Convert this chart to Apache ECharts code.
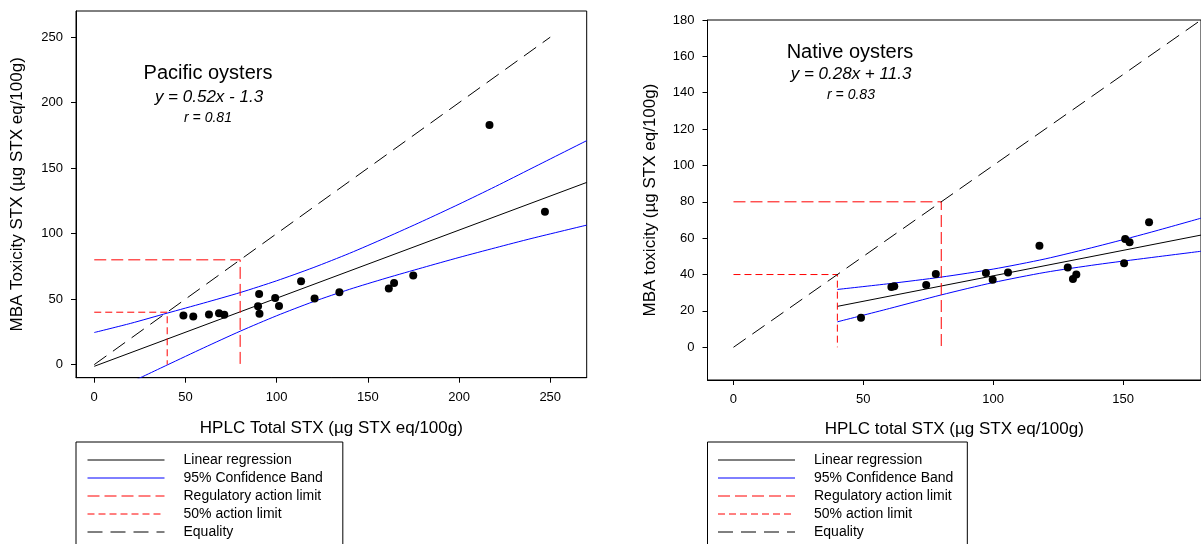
<!DOCTYPE html>
<html><head><meta charset="utf-8">
<script src="https://cdn.jsdelivr.net/npm/echarts@6/dist/echarts.min.js"></script>
<style>html,body{margin:0;padding:0;background:#fff}#c{width:1201px;height:544px}</style>
</head><body><div id="c"></div>
<script>
// ---------- data ----------
const legendNames = ['Linear regression', '95% Confidence Band', 'Regulatory action limit', '50% action limit', 'Equality'];

// Pacific oysters (left panel)
const pacificPoints = [
  [48.9, 37.5], [54.3, 36.7], [62.9, 38.2], [68.4, 39.2], [71.3, 38.0],
  [90.4, 54.0], [89.8, 44.6], [90.6, 38.8], [99.2, 50.9], [101.3, 44.8],
  [113.4, 63.7], [120.8, 50.5], [134.4, 55.3], [161.5, 58.1], [164.4, 62.4],
  [174.9, 68.0], [216.7, 183.0], [247.1, 116.7]
];
const pacificRegression = [[0, -1.3], [270, 139.1]];
const pacificUpper = [[0, 24.5], [20, 31.5], [40, 39.3], [60, 47], [80, 55], [100, 64], [120, 74], [140, 85], [160, 97], [180, 109.5], [200, 122.5], [220, 136], [240, 150], [270, 171]];
const pacificLower = [[20, -13.5], [40, -0.3], [60, 12.8], [80, 25.5], [100, 37.3], [120, 48], [140, 57.5], [160, 66], [180, 74], [200, 81.8], [220, 89.2], [240, 96.4], [270, 106.5]];
const pacificEquality = [[0, 0], [250, 250]];
const pacificXTicks = [0, 50, 100, 150, 200, 250];
const pacificYTicks = [0, 50, 100, 150, 200, 250];

// Native oysters (right panel)
const nativePoints = [
  [49.1, 16.3], [60.8, 33.2], [61.9, 33.6], [74.2, 34.3], [77.9, 40.3],
  [97.2, 40.8], [99.8, 37.2], [105.7, 41.1], [117.8, 55.8], [128.7, 43.9],
  [130.7, 37.6], [132.0, 40.0], [150.4, 46.2], [150.8, 59.6], [152.5, 57.8],
  [160.0, 68.8]
];
const nativeRegression = [[40, 22.5], [180, 61.7]];
const nativeUpper = [[40, 31.8], [60, 35], [80, 38.6], [100, 43], [120, 48.6], [140, 55.5], [160, 63], [180, 71]];
const nativeLower = [[40, 14], [60, 21.3], [80, 28.8], [100, 35.6], [120, 41.2], [140, 45.5], [160, 49.2], [180, 52.8]];
const nativeEquality = [[0, 0], [180, 180]];
const nativeXTicks = [0, 50, 100, 150];
const nativeYTicks = [0, 20, 40, 60, 80, 100, 120, 140, 160, 180];

// action limits (shared)
const regulatoryLimit = [[0, 80], [80, 80], [80, 0]];
const halfLimit = [[0, 40], [40, 40], [40, 0]];

// ---------- chart ----------
const FONT = "'Liberation Sans', Arial, Helvetica, sans-serif";
const chart = echarts.init(document.getElementById('c'), null, {renderer: 'canvas'});

function xAxisCfg(gridIndex, min, max, ticks, name, gap) {
  return {
    type: 'value', gridIndex, min, max, name, nameLocation: 'middle', nameGap: gap,
    nameTextStyle: {fontFamily: FONT, fontSize: 17, color: '#000'},
    axisLine: {show: true, onZero: false, lineStyle: {color: '#000', width: 1}},
    axisTick: {show: true, inside: false, length: 5, customValues: ticks, lineStyle: {color: '#000'}},
    axisLabel: {customValues: ticks, margin: 13, fontFamily: FONT, fontSize: 13, color: '#000'},
    splitLine: {show: false}
  };
}
function yAxisCfg(gridIndex, min, max, ticks, name, gap) {
  return {
    type: 'value', gridIndex, min, max, name, nameLocation: 'middle', nameGap: gap,
    nameTextStyle: {fontFamily: FONT, fontSize: 17, color: '#000'},
    axisLine: {show: true, onZero: false, lineStyle: {color: '#000', width: 1}},
    axisTick: {show: true, inside: false, length: 5, customValues: ticks, lineStyle: {color: '#000'}},
    axisLabel: {customValues: ticks, margin: 13, fontFamily: FONT, fontSize: 13, color: '#000'},
    splitLine: {show: false}
  };
}
function lineSeries(name, data, xi, color, dash, smooth) {
  return {
    type: 'line', name, data, xAxisIndex: xi, yAxisIndex: xi,
    symbol: 'none', smooth: smooth || false, clip: true, silent: true,
    lineStyle: {color, width: 1, type: dash || 'solid'},
    itemStyle: {color}, z: 3
  };
}
function panelSeries(xi, pts, reg, up, low, eq) {
  return [
    lineSeries('Linear regression', reg, xi, '#000'),
    lineSeries('95% Confidence Band', up, xi, '#0000ff', null, 0.25),
    lineSeries('95% Confidence Band', low, xi, '#0000ff', null, 0.25),
    lineSeries('Regulatory action limit', regulatoryLimit, xi, '#ff0000', [12, 5]),
    lineSeries('50% action limit', halfLimit, xi, '#ff0000', [7, 4]),
    lineSeries('Equality', eq, xi, '#000', [15, 8]),
    {type: 'scatter', name: 'data' + xi, data: pts, xAxisIndex: xi, yAxisIndex: xi,
     symbol: 'circle', symbolSize: 8, itemStyle: {color: '#000', opacity: 1}, silent: true, z: 4}
  ];
}
function legendCfg(left, padLeft, padRight) {
  return {
    data: legendNames, orient: 'vertical', left, top: 442, height: 140,
    itemWidth: 77, itemHeight: 14, itemGap: 4,
    padding: [11, padRight, 24, padLeft],
    borderColor: '#000', borderWidth: 1, backgroundColor: '#fff',
    selectedMode: false,
    itemStyle: {color: 'rgba(0,0,0,0)', borderColor: 'rgba(0,0,0,0)', borderWidth: 0, opacity: 0},
    lineStyle: {width: 1},
    textStyle: {fontFamily: FONT, fontSize: 14, color: '#000', padding: [0, 0, 0, 14]}
  };
}
function txt(x, y, text, size, italic) {
  return {type: 'text', x, y, silent: true,
    style: {text, fontFamily: FONT, fontSize: size, fontStyle: italic ? 'italic' : 'normal',
            fill: '#000', align: 'center', verticalAlign: 'middle'}};
}

chart.setOption({
  animation: false,
  backgroundColor: '#fff',
  grid: [
    {left: 76, top: 11, width: 510.7, height: 366.7, show: true, borderColor: '#000', borderWidth: 1, containLabel: false},
    {left: 707.5, top: 20, width: 501.6, height: 360, show: true, borderColor: '#000', borderWidth: 1, containLabel: false}
  ],
  xAxis: [
    xAxisCfg(0, -10, 270, pacificXTicks, 'HPLC Total STX (µg STX eq/100g)', 42),
    xAxisCfg(1, -10, 180, nativeXTicks, 'HPLC total STX (µg STX eq/100g)', 41)
  ],
  yAxis: [
    yAxisCfg(0, -10, 270, pacificYTicks, 'MBA Toxicity STX (µg STX eq/100g)', 50),
    yAxisCfg(1, -18, 180, nativeYTicks, 'MBA toxicity (µg STX eq/100g)', 49)
  ],
  legend: [legendCfg(76, 11, 20), legendCfg(707.5, 10, 14)],
  graphic: [
    txt(208, 73, 'Pacific oysters', 20, false),
    txt(209, 97, 'y = 0.52x - 1.3', 17, true),
    txt(208, 118, 'r = 0.81', 14, true),
    txt(850, 52, 'Native oysters', 20, false),
    txt(851, 74, 'y = 0.28x + 11.3', 17, true),
    txt(851, 95, 'r = 0.83', 14, true)
  ],
  series: [
    ...panelSeries(0, pacificPoints, pacificRegression, pacificUpper, pacificLower, pacificEquality),
    ...panelSeries(1, nativePoints, nativeRegression, nativeUpper, nativeLower, nativeEquality)
  ]
});
</script>
</body></html>
